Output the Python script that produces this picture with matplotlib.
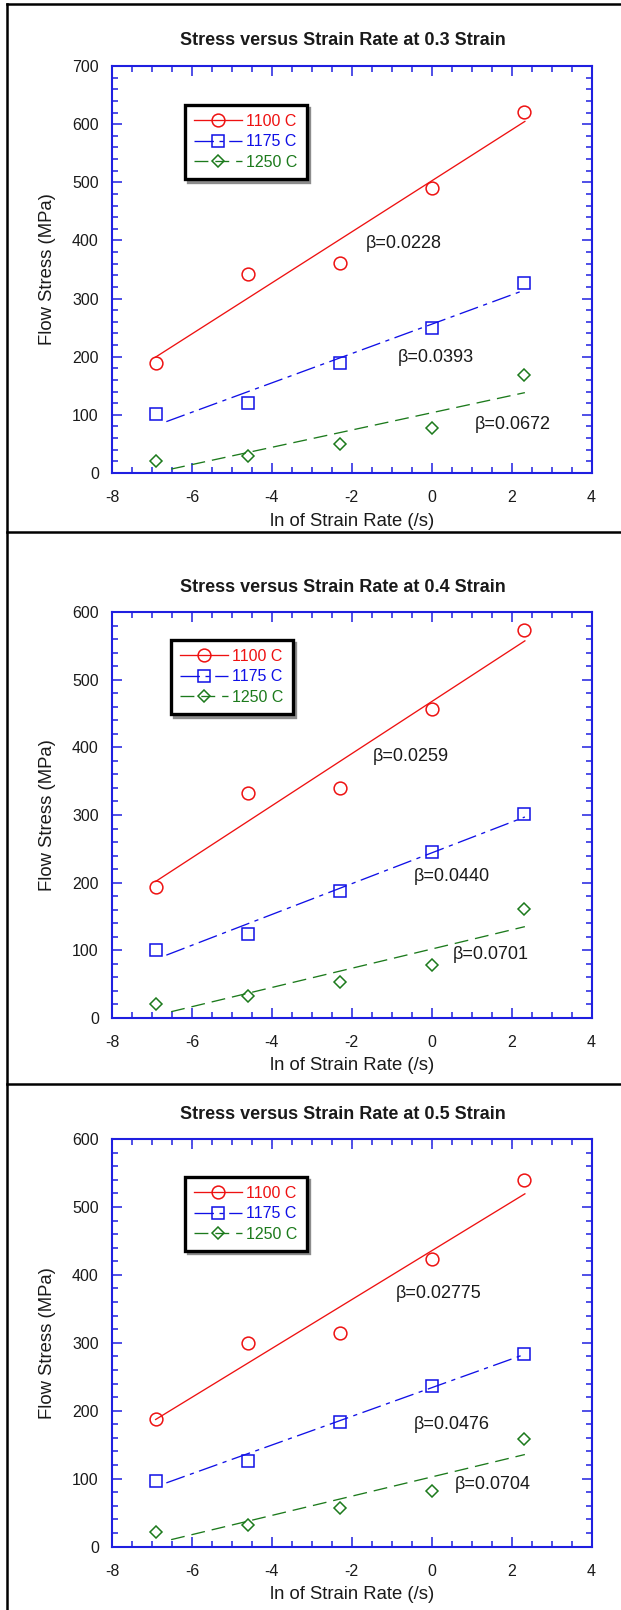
import numpy as np
import matplotlib
matplotlib.use("Agg")
import matplotlib.pyplot as plt
from matplotlib.lines import Line2D
from matplotlib.ticker import MultipleLocator

plt.rcParams['font.family'] = ['Liberation Sans', 'DejaVu Sans']
plt.rcParams['lines.scale_dashes'] = False
plt.rcParams['axes.unicode_minus'] = False

# ---------------- data ----------------
strain_rates = [0.001, 0.01, 0.1, 1, 10]
temps = ["1100 C", "1175 C", "1250 C"]
strains = ["0.3", "0.4", "0.5"]

stress_03_1100 = [190, 343, 362, 491, 621]
stress_03_1175 = [101, 121, 190, 250, 327]
stress_03_1250 = [21, 30, 50, 78, 168]

stress_04_1100 = [193, 332, 340, 456, 574]
stress_04_1175 = [100, 124, 187, 246, 301]
stress_04_1250 = [21, 32, 53, 79, 161]

stress_05_1100 = [187, 299, 315, 423, 539]
stress_05_1175 = [96, 126, 184, 236, 284]
stress_05_1250 = [21, 31, 57, 81, 159]

beta_03 = ["0.0228", "0.0393", "0.0672"]
beta_04 = ["0.0259", "0.0440", "0.0701"]
beta_05 = ["0.02775", "0.0476", "0.0704"]

y_max = [700, 600, 600]

# ---------------- style ----------------
W, H = 621, 1610
fig = plt.figure(figsize=(W / 100, H / 100), dpi=100)

colors = ["#ee1111", "#1010e6", "#1c7a1c"]
markers = ["o", "s", "D"]
msizes = [9.2, 9.2, 6.6]
linestyles = ["-", (0, (14, 4, 3, 4)), (0, (10, 5))]
line_start = [None, -6.64, -6.52]
spine_color = "#1f1fe0"
text_color = "#1a1a1a"

# axes pixel boxes (left, top, right, bottom)
boxes = [(112, 66, 591.5, 473), (112, 612, 591.5, 1018), (112, 1139, 591.5, 1546.5)]
legend_anchor = [(0.152, 0.904), (0.123, 0.931), (0.152, 0.907)]
beta_pos = [
    [(-1.66, 395), (-0.84, 199), (1.07, 84)],
    [(-1.48, 386), (-0.44, 209), (0.53, 94)],
    [(-0.89, 372), (-0.46, 180), (0.57, 92)],
]

panels = [
    [stress_03_1100, stress_03_1175, stress_03_1250],
    [stress_04_1100, stress_04_1175, stress_04_1250],
    [stress_05_1100, stress_05_1175, stress_05_1250],
]
betas = [beta_03, beta_04, beta_05]

x = np.log(np.array(strain_rates, dtype=float))

for p, (series, box) in enumerate(zip(panels, boxes)):
    l, t, r, b = box
    ax = fig.add_axes([l / W, 1 - b / H, (r - l) / W, (b - t) / H])
    hpx = b - t
    handles = []
    for i, ys in enumerate(series):
        ys = np.array(ys, dtype=float)
        k, c = np.polyfit(x, ys, 1)
        x0 = x[0] if line_start[i] is None else line_start[i]
        xf = np.array([x0, x[-1] + 0.03])
        ax.plot(xf, k * xf + c, color=colors[i], lw=0.95, linestyle=linestyles[i],
                zorder=2)
        ax.plot(x, ys, linestyle="none", marker=markers[i], ms=msizes[i],
                mfc="none", mec=colors[i], mew=1.1, zorder=3)
        handles.append(Line2D([], [], color=colors[i], lw=0.95, linestyle=linestyles[i],
                              marker=markers[i], ms=msizes[i], mfc="none",
                              mec=colors[i], mew=1.1))
    for i, (bx, by) in enumerate(beta_pos[p]):
        ax.text(bx, by, "\u03b2=" + betas[p][i], fontsize=13, color=text_color,
                ha="left", va="center")

    ax.set_xlim(-8, 4)
    ax.set_ylim(0, y_max[p])
    ax.xaxis.set_major_locator(MultipleLocator(2))
    ax.xaxis.set_minor_locator(MultipleLocator(0.5))
    ax.yaxis.set_major_locator(MultipleLocator(100))
    ax.yaxis.set_minor_locator(MultipleLocator(20))
    ax.tick_params(which="both", direction="in", top=True, right=True,
                   color=spine_color, width=1.1, labelcolor=text_color,
                   labelsize=11.5)
    ax.tick_params(which="major", length=7.2)
    ax.tick_params(which="minor", length=4.3)
    ax.tick_params(axis="x", which="major", pad=12.5)
    ax.tick_params(axis="y", which="major", pad=9.5)
    for s in ax.spines.values():
        s.set_color(spine_color)
        s.set_linewidth(1.5)

    ax.set_xlabel("ln of Strain Rate (/s)", fontsize=13.3, color=text_color, va="center")
    ax.xaxis.set_label_coords(0.5, -48 / hpx)
    ax.set_ylabel("Flow Stress (MPa)", fontsize=13.3, color=text_color, va="center")
    ax.yaxis.set_label_coords(-64.5 / (r - l), 0.5)
    ax.text(0.481, 1 + 25 / hpx,
            "Stress versus Strain Rate at " + strains[p] + " Strain",
            transform=ax.transAxes, fontsize=13, fontweight="bold",
            color=text_color, ha="center", va="center")

    leg = ax.legend(handles, temps, loc="upper left", bbox_to_anchor=legend_anchor[p],
                    borderaxespad=0, fontsize=11.5, labelcolor=colors,
                    handlelength=3.0, handletextpad=0.3, labelspacing=0.35,
                    borderpad=0.55, numpoints=1, fancybox=False,
                    shadow={"color": "0.55", "alpha": 1.0}, framealpha=1)
    leg.get_frame().set_edgecolor("black")
    leg.get_frame().set_linewidth(2.4)

# figure borders
lw_b = 1.8
fig.add_artist(Line2D([7 / W, 7 / W], [0, 1 - 4 / H], color="black", lw=lw_b,
                      transform=fig.transFigure))
for yy in [4, 532, 1084]:
    fig.add_artist(Line2D([7 / W, 1], [1 - yy / H, 1 - yy / H], color="black", lw=lw_b,
                          transform=fig.transFigure))

fig.savefig("out.png", dpi=100)
